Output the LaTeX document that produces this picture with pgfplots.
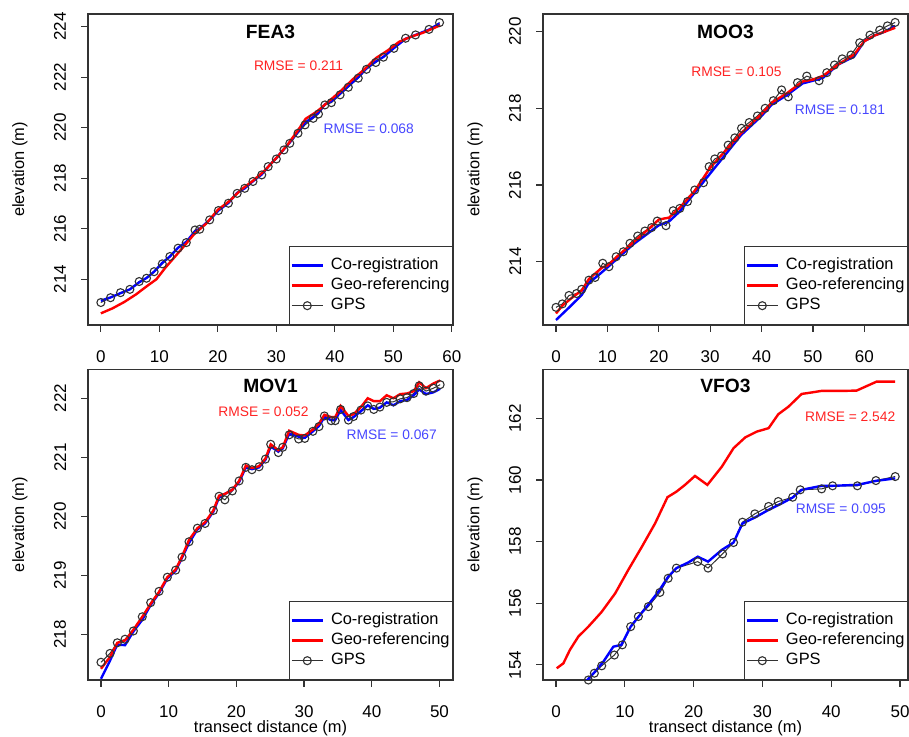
\documentclass[border=0pt]{standalone}
\usepackage{fontspec}
\setmainfont{Liberation Sans}
\usepackage{pgfplots}
\pgfplotsset{compat=1.18}
\definecolor{coregc}{RGB}{0,0,255}
\definecolor{georefc}{RGB}{255,0,0}
\definecolor{gpsc}{RGB}{50,50,50}
\definecolor{rmseblue}{RGB}{70,70,255}
\definecolor{rmsered}{RGB}{255,35,35}
\pgfplotsset{
  panel/.style={
    scale only axis, width=182.5pt, height=155.5pt,
    axis line style={black!80, line width=0.6pt},
    tick style={black!80, line width=0.6pt},
    tick align=outside, major tick length=3.5pt,
    xtick pos=bottom, ytick pos=left,
    font=\fontsize{8.2}{9.5}\selectfont,
    tick label style={font=\fontsize{8.5}{10}\selectfont, inner sep=1pt},
    /pgf/number format/assume math mode=true,
    yticklabel style={rotate=90, anchor=south},
    xticklabel shift=8.3pt, yticklabel shift=6.3pt,
    every axis y label/.style={at={(axis description cs:0,0.5)}, xshift=-34pt, rotate=90, anchor=center},
    every axis x label/.style={at={(axis description cs:0.5,0)}, yshift=-24.3pt, anchor=center, inner sep=0pt},
    legend style={at={(1,0)}, anchor=south east, draw=black!80, line width=0.5pt,
      inner xsep=0.5pt, inner ysep=4.5pt, font=\fontsize{8.2}{9.5}\selectfont,
      cells={anchor=west}, nodes={inner sep=1pt, text height=6pt, text depth=1.8pt},
      row sep=0.2pt, column sep=2.5pt},
    legend image code/.code={\draw[mark repeat=2,mark phase=2,#1] plot coordinates {(0pt,0pt) (7.75pt,0pt) (15.5pt,0pt)};},
  },
  coregline/.style={coregc, line width=1.2pt, no markers},
  georefline/.style={georefc, line width=1.2pt, no markers},
  gpsline/.style={gpsc, line width=0.5pt, mark=o, mark size=2pt, mark options={gpsc, line width=0.55pt}},
}
\tikzset{
  ptitle/.style={font=\bfseries\fontsize{9.6}{11}\selectfont},
  rmse/.style={font=\fontsize{6.9}{8}\selectfont},
}
\begin{document}
\begin{tikzpicture}
\useasboundingbox (0,0) rectangle (454.5pt,368.5pt);

% FEA3
\begin{axis}[panel, at={(44pt,206pt)}, anchor=south west,
  xmin=-2.2, xmax=60.2, ymin=212.19, ymax=224.5,
  xtick={0,10,...,60}, ytick={214,216,...,224}, ylabel={elevation (m)}]
\addlegendimage{coregline}\addlegendentry{Co-registration}
\addlegendimage{georefline}\addlegendentry{Geo-referencing}
\addlegendimage{gpsline}\addlegendentry{GPS}
\addplot[gpsline, forget plot] coordinates {(0,213.08) (1.65,213.27) (3.36,213.47) (4.96,213.6) (6.55,213.91) (7.8,214.04) (9.1,214.3) (10.5,214.61) (11.8,214.9) (13.2,215.23) (14.6,215.45) (16.1,215.95) (16.9,215.98) (18.6,216.35) (20.1,216.72) (21.8,217.01) (23.3,217.4) (24.6,217.6) (26.0,217.87) (27.5,218.13) (28.6,218.46) (30.0,218.76) (31.3,219.12) (32.3,219.38) (33.7,219.78) (34.9,220.11) (36.3,220.37) (37.2,220.54) (38.3,220.9) (39.4,220.99) (40.9,221.3) (42.3,221.6) (44.0,221.96) (45.4,222.31) (47.0,222.58) (48.3,222.79) (50.1,223.14) (52.1,223.54) (53.8,223.67) (56.1,223.89) (57.9,224.16)};
\addplot[coregline, forget plot] coordinates {(0,213.15) (1.65,213.28) (3.36,213.45) (4.96,213.6) (6.55,213.88) (7.8,214.05) (9.1,214.3) (10.5,214.65) (11.8,214.9) (13.2,215.25) (14.6,215.48) (16.1,215.9) (16.9,216.0) (18.6,216.35) (20.1,216.72) (21.8,217.02) (23.3,217.42) (24.6,217.6) (26.0,217.88) (27.5,218.15) (28.6,218.45) (30.0,218.8) (31.3,219.15) (32.3,219.42) (33.7,219.85) (34.9,220.2) (36.3,220.42) (37.2,220.6) (38.3,220.92) (39.4,221.05) (40.9,221.35) (42.3,221.65) (44.0,222.0) (45.4,222.35) (47.0,222.62) (48.3,222.8) (50.1,223.15) (52.1,223.52) (53.8,223.67) (56.1,223.88) (57.9,224.12)};
\addplot[georefline, forget plot] coordinates {(0,212.65) (2,212.85) (4,213.1) (6,213.4) (8,213.75) (9.5,214.0) (11,214.45) (12.5,214.85) (14,215.25) (16,215.8) (18,216.2) (20,216.75) (22,217.1) (24,217.55) (26,217.9) (28,218.3) (30,218.8) (32,219.35) (34,220.0) (35,220.35) (37,220.65) (39,221.05) (41,221.45) (43,221.9) (45,222.3) (47,222.75) (49,223.05) (51,223.4) (53,223.6) (55,223.75) (57,223.95) (58,224.05)};
\node[ptitle] at (rel axis cs:0.5,0.943) {FEA3};
\node[rmse, rmsered] at (axis cs:33.8,222.46) {RMSE = 0.211};
\node[rmse, rmseblue] at (axis cs:45.8,219.95) {RMSE = 0.068};
\end{axis}

% MOO3
\begin{axis}[panel, at={(271.5pt,206pt)}, anchor=south west,
  xmin=-2.53, xmax=68.5, ymin=212.35, ymax=220.46,
  xtick={0,10,...,60}, ytick={214,216,218,220}, ylabel={elevation (m)}]
\addlegendimage{coregline}\addlegendentry{Co-registration}
\addlegendimage{georefline}\addlegendentry{Geo-referencing}
\addlegendimage{gpsline}\addlegendentry{GPS}
\addplot[gpsline, forget plot] coordinates {(0,212.81) (1.23,212.9) (2.53,213.12) (4.0,213.17) (5.0,213.28) (6.4,213.52) (7.6,213.59) (9.1,213.96) (10.3,213.87) (11.7,214.13) (13.1,214.26) (14.4,214.48) (15.9,214.67) (17.3,214.8) (18.6,214.89) (19.7,215.06) (21.4,214.94) (22.8,215.33) (24.1,215.39) (25.6,215.57) (27.0,215.87) (28.7,216.06) (29.8,216.48) (30.9,216.68) (32.2,216.76) (33.5,217.04) (34.8,217.23) (36.1,217.48) (37.6,217.63) (39.2,217.8) (40.7,218.0) (42.3,218.2) (43.9,218.48) (45.2,218.3) (47.0,218.67) (48.8,218.84) (51.2,218.72) (52.7,218.93) (54.2,219.13) (55.7,219.29) (57.4,219.39) (59.1,219.71) (61.1,219.91) (63.0,220.04) (64.5,220.15) (66.0,220.24)};
\addplot[coregline, forget plot] coordinates {(0,212.48) (2.5,212.8) (5,213.13) (6.4,213.45) (8,213.62) (10,213.85) (12.5,214.15) (15,214.45) (17.5,214.7) (20,214.95) (22,215.05) (24,215.3) (27,215.8) (30,216.3) (33,216.8) (36,217.3) (38,217.55) (40,217.8) (42,218.1) (45,218.35) (48,218.65) (50,218.72) (52,218.8) (55,219.15) (58,219.35) (60,219.75) (62,219.9) (64,220.0) (66,220.15)};
\addplot[georefline, forget plot] coordinates {(0,212.65) (1.2,212.85) (3,213.05) (5,213.25) (6.4,213.55) (9,213.85) (10,213.9) (12,214.15) (15,214.5) (18,214.85) (20,215.1) (22,215.15) (24,215.4) (27,215.85) (30,216.45) (33,216.9) (36,217.35) (38,217.6) (40,217.85) (42,218.15) (45,218.4) (48,218.7) (50,218.75) (52,218.85) (55,219.15) (58,219.4) (60,219.75) (62,219.9) (64,220.0) (66,220.1)};
\node[ptitle] at (rel axis cs:0.5,0.943) {MOO3};
\node[rmse, rmsered] at (axis cs:35.1,218.96) {RMSE = 0.105};
\node[rmse, rmseblue] at (axis cs:55.25,217.96) {RMSE = 0.181};
\end{axis}

% MOV1
\begin{axis}[panel, at={(44pt,28.5pt)}, anchor=south west, height=155.35pt,
  xmin=-1.92, xmax=52.0, ymin=217.23, ymax=222.49,
  xtick={0,10,...,50}, ytick={218,219,...,222},
  ylabel={elevation (m)}, xlabel={transect distance (m)}]
\addlegendimage{coregline}\addlegendentry{Co-registration}
\addlegendimage{georefline}\addlegendentry{Geo-referencing}
\addlegendimage{gpsline}\addlegendentry{GPS}
\addplot[gpsline, forget plot] coordinates {(0,217.53) (1.33,217.68) (2.41,217.86) (3.55,217.92) (4.78,218.06) (6.1,218.3) (7.34,218.54) (8.57,218.73) (9.8,218.97) (11.03,219.09) (11.97,219.31) (13.0,219.57) (14.24,219.8) (15.37,219.88) (16.6,220.1) (17.44,220.34) (18.3,220.28) (19.4,220.43) (20.4,220.6) (21.4,220.83) (22.3,220.79) (23.35,220.84) (24.3,220.97) (25.07,221.22) (26.2,221.08) (26.85,221.17) (27.8,221.38) (29.2,221.31) (30.1,221.32) (31.3,221.44) (32.2,221.52) (33.0,221.7) (34.0,221.62) (34.6,221.62) (35.4,221.81) (36.55,221.63) (37.3,221.69) (38.4,221.8) (39.4,221.87) (40.3,221.81) (41.2,221.85) (42.2,221.93) (43.2,221.94) (44.2,221.99) (45.2,222.01) (46.2,222.08) (47.0,222.21) (48.0,222.12) (49.1,222.17) (50.1,222.23)};
\addplot[coregline, forget plot] coordinates {(0,217.25) (1.3,217.55) (2.4,217.83) (3.55,217.82) (4.78,218.05) (6.1,218.25) (7.34,218.5) (8.57,218.7) (9.8,218.95) (11.03,219.08) (11.97,219.3) (13.0,219.55) (14.24,219.78) (15.37,219.88) (16.6,220.08) (17.44,220.32) (18.3,220.38) (19.4,220.45) (20.4,220.58) (21.4,220.83) (22.3,220.8) (23.35,220.83) (24.3,220.96) (25.07,221.18) (26.2,221.1) (26.85,221.15) (27.8,221.4) (29.2,221.35) (30.1,221.33) (31.3,221.44) (32.2,221.53) (33.0,221.68) (34.0,221.63) (34.6,221.63) (35.4,221.8) (36.55,221.63) (37.3,221.68) (38.4,221.78) (39.4,221.88) (40.3,221.82) (41.2,221.84) (42.2,221.93) (43.2,221.88) (44.2,221.95) (45.2,221.97) (46.2,222.05) (47.0,222.15) (48.0,222.07) (49.1,222.1) (50.1,222.16)};
\addplot[georefline, forget plot] coordinates {(0,217.42) (1.33,217.62) (2.41,217.86) (3.55,217.9) (4.78,218.08) (6.1,218.3) (7.34,218.52) (8.57,218.72) (9.8,218.97) (11.03,219.1) (11.97,219.32) (13.0,219.6) (14.24,219.8) (15.37,219.9) (16.6,220.1) (17.44,220.35) (18.3,220.38) (19.4,220.45) (20.4,220.6) (21.4,220.86) (22.3,220.82) (23.35,220.85) (24.3,220.98) (25.07,221.22) (26.2,221.12) (26.85,221.17) (27.8,221.45) (29.2,221.38) (30.1,221.37) (31.3,221.47) (32.2,221.57) (33.0,221.72) (34.0,221.68) (34.6,221.68) (35.4,221.87) (36.55,221.7) (37.3,221.73) (38.4,221.85) (39.4,222.0) (40.3,221.95) (41.2,221.95) (42.2,222.05) (43.2,222.0) (44.2,222.07) (45.2,222.08) (46.2,222.12) (47.0,222.27) (48.0,222.17) (49.1,222.25) (50.1,222.3)};
\node[ptitle] at (rel axis cs:0.5,0.946) {MOV1};
\node[rmse, rmsered] at (axis cs:24.0,221.77) {RMSE = 0.052};
\node[rmse, rmseblue] at (axis cs:42.95,221.39) {RMSE = 0.067};
\end{axis}

% VFO3
\begin{axis}[panel, at={(271.5pt,28.5pt)}, anchor=south west, height=155.35pt,
  xmin=-1.89, xmax=51.16, ymin=153.51, ymax=163.59,
  xtick={0,10,...,50}, ytick={154,156,...,162},
  ylabel={elevation (m)}, xlabel={transect distance (m)}]
\addlegendimage{coregline}\addlegendentry{Co-registration}
\addlegendimage{georefline}\addlegendentry{Geo-referencing}
\addlegendimage{gpsline}\addlegendentry{GPS}
\addplot[gpsline, forget plot] coordinates {(3.6,153.25) (4.7,153.51) (5.57,153.73) (6.64,153.97) (8.48,154.32) (9.64,154.65) (10.85,155.24) (11.97,155.57) (13.42,155.89) (15.1,156.35) (16.3,156.81) (17.5,157.14) (20.6,157.35) (22.1,157.14) (24.2,157.6) (25.8,157.97) (27.1,158.63) (28.9,158.9) (30.9,159.14) (32.3,159.3) (34.4,159.44) (35.5,159.68) (38.6,159.71) (40.2,159.81) (43.8,159.81) (46.5,159.98) (49.3,160.11)};
\addplot[coregline, forget plot] coordinates {(3.5,153.2) (4.46,153.49) (5.67,153.78) (6.9,154.11) (8.33,154.59) (9.5,154.65) (10.85,155.24) (12.2,155.62) (13.4,155.95) (14.9,156.38) (16.3,156.86) (17.5,157.14) (19.2,157.32) (20.6,157.51) (22.1,157.35) (24.1,157.73) (25.8,157.97) (27.1,158.59) (28.9,158.78) (30.9,159.03) (32.8,159.24) (34.4,159.43) (35.7,159.68) (38.6,159.81) (40.2,159.81) (43.8,159.84) (46.5,159.97) (49.3,160.05)};
\addplot[georefline, forget plot] coordinates {(0.1,153.89) (1.07,154.05) (2.03,154.49) (3.25,154.92) (4.7,155.24) (6.6,155.71) (8.6,156.32) (10.5,157.08) (12.5,157.84) (14.4,158.59) (16.2,159.44) (17.5,159.62) (18.75,159.84) (20.2,160.13) (22.0,159.84) (24.1,160.43) (25.8,161.03) (27.5,161.38) (29.2,161.57) (30.9,161.68) (32.3,162.13) (33.8,162.38) (35.7,162.79) (37.2,162.84) (38.6,162.89) (42.0,162.89) (43.7,162.9) (45.2,163.05) (46.6,163.19) (49.3,163.19)};
\node[ptitle] at (rel axis cs:0.5,0.946) {VFO3};
\node[rmse, rmsered] at (axis cs:42.76,162.05) {RMSE = 2.542};
\node[rmse, rmseblue] at (axis cs:41.4,159.06) {RMSE = 0.095};
\end{axis}
\end{tikzpicture}
\end{document}
